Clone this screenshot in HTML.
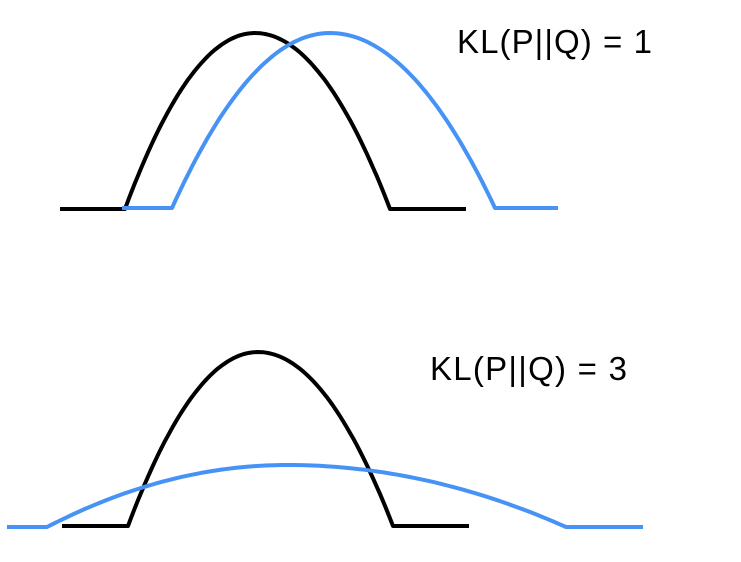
<!DOCTYPE html>
<html><head><meta charset="utf-8"><style>
html,body{margin:0;padding:0;background:#fff;}
svg{display:block;}
text{font-family:"Liberation Sans",Arial,sans-serif;}
</style></head><body>
<svg id="chart" width="741" height="562" viewBox="0 0 741 562">
<g id="plots"></g>
<text x="457" y="53" font-size="33" fill="#000" textLength="195" lengthAdjust="spacing">KL(P||Q) = 1</text>
<text x="430" y="380" font-size="33" fill="#000" textLength="197" lengthAdjust="spacing">KL(P||Q) = 3</text>
</svg>
<script>
const curveNames = ["top-p","top-q","bottom-p","bottom-q"];
const baseLeft = [60,122,62,7];
const archStart = [125,172,128,47];
const archPeak = [255,330,258,287];
const archEnd = [390,495,393,566];
const baseRight = [466,558,469,643];
const baseY = [209,208,526,527];
const peakY = [33,33,352,465];
const colors = ["#000000","#4693f5","#000000","#4693f5"];
const NS="http://www.w3.org/2000/svg";
const g=document.getElementById('plots');
function archPoints(i){
  const pts=[];
  pts.push([baseLeft[i],baseY[i]]);
  pts.push([archStart[i],baseY[i]]);
  const n=80;
  for(let k=0;k<=n;k++){
    const x=archStart[i]+(archEnd[i]-archStart[i])*k/n;
    const half = x<archPeak[i] ? archPeak[i]-archStart[i] : archEnd[i]-archPeak[i];
    const t=(x-archPeak[i])/half;
    const y=peakY[i]+(baseY[i]-peakY[i])*t*t;
    pts.push([x,y]);
  }
  pts.push([baseRight[i],baseY[i]]);
  return pts;
}
[0,1,2,3].forEach(i=>{
  const p=document.createElementNS(NS,'polyline');
  p.setAttribute('points',archPoints(i).map(q=>q[0].toFixed(1)+','+q[1].toFixed(1)).join(' '));
  p.setAttribute('fill','none');
  p.setAttribute('stroke',colors[i]);
  p.setAttribute('stroke-width','4');
  p.setAttribute('stroke-linejoin','round');
  
  
  g.appendChild(p);
});
</script>
</body></html>
